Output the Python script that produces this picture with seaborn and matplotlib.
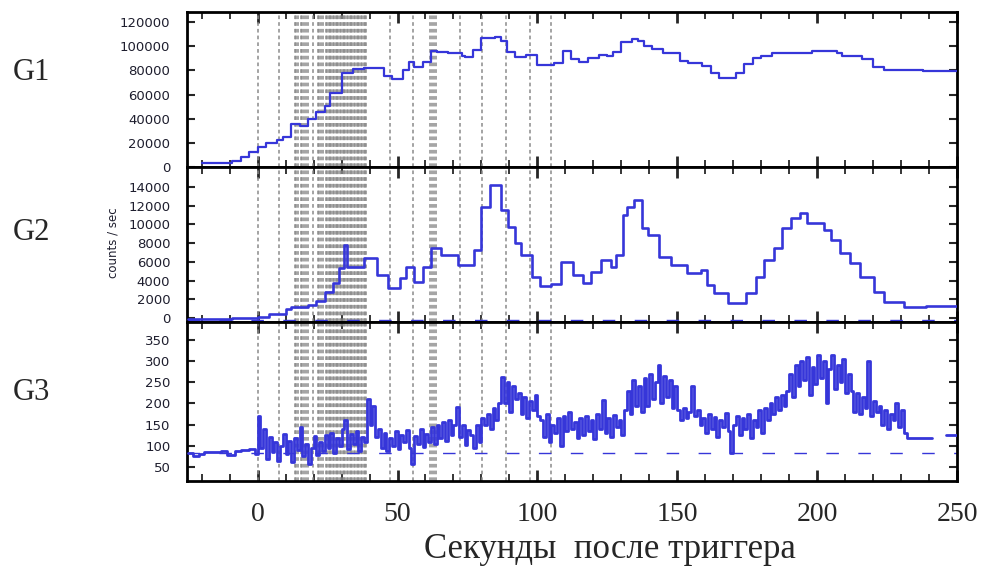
import numpy as np
import pandas as pd
import matplotlib
matplotlib.use("Agg")
import matplotlib.pyplot as plt
import seaborn as sns

# ---------------- data ----------------
panel_names = ["G1", "G2", "G3"]
x_ticks = [0, 50, 100, 150, 200, 250]
x_label = "Секунды  после триггера"
y_label_g2 = "counts / sec"

g1_ticks = [0, 20000, 40000, 60000, 80000, 100000, 120000]
g2_ticks = [0, 2000, 4000, 6000, 8000, 10000, 12000, 14000]
g3_ticks = [50, 100, 150, 200, 250, 300, 350]

# G1 : step start times (s) and count rates
g1_time = [-20, -9, -6, -3, 0, 3, 7, 9, 12, 15, 18, 21, 24, 26, 30, 34, 38, 45, 48,
           52, 54, 56, 59, 62, 64, 68, 73, 74, 77, 80, 85, 87, 89, 92, 96, 100,
           106, 109, 112, 115, 118, 122, 125, 127, 130, 134, 136, 138, 141, 145,
           151, 154, 159, 162, 165, 171, 174, 177, 180, 184, 191, 198, 207, 209,
           216, 220, 224, 238]
g1_rate = [3600, 4700, 8500, 12700, 16800, 20100, 22300, 24600, 35600, 33900,
           40000, 45800, 50500, 61000, 77500, 80800, 82200, 75300, 72600, 80300,
           86700, 83000, 86700, 96400, 95000, 94200, 91900, 90800, 96800, 106900,
           108000, 104300, 95500, 91300, 92700, 84400, 86300, 96200, 89100, 87100,
           89900, 92700, 92200, 95400, 103700, 105900, 104500, 100100, 97400,
           94600, 88000, 85800, 83600, 77500, 73400, 77500, 85200, 89900, 92100,
           94600, 94100, 95700, 94600, 92100, 89100, 83000, 80300, 79700]
g1_end = 250

# G2 : step start times (s) and count rates
g2_time = [-25, -9, 0, 4, 10, 12, 18, 21, 24, 27, 29, 31, 32, 38, 42.5, 46.7, 51,
           53, 56, 59, 62, 65.6, 71.5, 77.5, 80, 83, 87, 89.6, 92, 94, 98, 101,
           105, 108.5, 112.7, 116.3, 119, 122.7, 126.3, 128, 130.5, 132, 134.5,
           137.5, 139.4, 143.5, 147.7, 153.6, 158.4, 160.8, 163, 168, 174.5, 178,
           181, 184.6, 187.6, 190.6, 194, 196.5, 202.4, 204.8, 208.3, 211.9,
           215.5, 220.2, 223.8, 231, 239]
g2_rate = [-150, 0, 140, 430, 930, 1210, 1390, 1850, 2810, 3700, 5300, 7800, 5490,
           6380, 4600, 3180, 4240, 5420, 3880, 5420, 7450, 6740, 5670, 7270,
           11900, 14220, 11550, 9770, 7990, 6740, 4420, 3420, 3640, 6020, 4600,
           3710, 4950, 6200, 5490, 6740, 11020, 11900, 12620, 9590, 8880, 6560,
           5670, 4780, 5130, 3530, 2640, 1570, 2640, 4420, 6200, 7450, 9590,
           10660, 11200, 10130, 9410, 8340, 6920, 5850, 4420, 2810, 1740, 1210,
           1280]
g2_end = 250
g2_background = -200

# G3 : 1-s bins starting at t = -25 s (nan = no data)
g3_first_bin = -25
g3_rate = [
    84, 84, 76, 76, 80, 80, 86, 86, 86, 86, 86, 86, 88, 88, 78, 78, 78, 88, 88, 90,
    90, 90, 92, 92, 80,
    171, 95, 140, 70, 120, 85, 110, 65, 100, 128, 80, 112, 62, 118, 90, 145, 75,
    105, 58, 96, 122, 78, 108, 88, 125, 95, 130, 82, 118, 100, 140, 161, 92, 128,
    105, 135, 88, 120, 110,
    210, 150, 193,
    120, 140, 95, 130, 88, 118, 100, 135, 92, 125, 108, 138, 96, 58, 122, 104, 140,
    98, 128,
    110, 145, 105, 150, 118, 155, 112, 160, 125, 148, 191, 120, 150, 102, 138,
    125, 95, 150, 110, 165,
    150, 175, 140, 190, 160, 200,
    263, 200, 250, 180, 240, 210,
    225, 175, 215, 165, 205, 185, 220, 170,
    160, 120, 175, 110, 150, 130, 165, 100,
    170, 135, 180, 140,
    155, 118, 165, 125, 170, 135, 160, 115, 175, 140, 208, 130, 165, 120, 172, 145,
    160, 125, 185,
    230, 175, 255, 195, 240, 180,
    260, 195, 270, 210, 250, 291, 200, 265, 215, 255, 190, 240,
    185, 160, 190, 165, 180, 240, 170, 185, 150,
    165, 130, 175, 140, 168, 120, 160, 145, 178, 135, 84, 150, 170, 125, 165, 140,
    175, 118, 160,
    145, 185, 130, 190, 160, 200, 175, 215, 185, 220, 195, 230,
    270, 215, 290, 240, 300, 255, 310, 220, 285, 245, 315, 260, 300, 200, 280, 315,
    235, 290, 250, 305, 225, 270,
    230, 180, 225, 175, 215, 190, 299, 170, 205, 180,
    195, 150, 185, 140, 175, 160, 200, 145, 185, 130,
    118, 118, 118, 118, 118, 118, 118, 118, 118,
    np.nan, np.nan, np.nan, np.nan, np.nan,
    126, 126, 126, 126,
]
g3_background = 84

# times of the vertical dashed marker lines (s)
event_times = [0, 7.7, 13.2, 13.8, 14.4, 15.4, 16.0, 16.7, 17.3, 18.1, 19.7,
               21.5, 22.1, 22.8, 23.4,
               24.4, 24.9, 25.4, 25.9, 26.4, 26.9, 27.4, 27.9, 28.4, 28.9, 29.4,
               29.9, 30.4, 30.9, 31.4, 31.9, 32.4, 32.9, 33.4, 33.9, 34.4, 34.9,
               35.4, 35.9, 36.4, 36.9, 37.4, 37.9, 38.4, 38.9,
               47.3, 55.6, 61.7, 62.4, 63.0, 63.7, 72.5, 80.3, 88.9, 97.3, 105]

# ---------------- helpers ----------------
def step_frame(times, values, end):
    t = list(times) + [end]
    v = list(values) + [values[-1]]
    return pd.DataFrame({"t": t, "rate": v, "seg": 0})


def binned_step_frame(first, values):
    rows = []
    seg = 0
    run = []
    for i, v in enumerate(values + [np.nan]):
        t = first + i
        if np.isnan(v):
            if run:
                run.append((t, run[-1][1]))
                rows += [(a, b, seg) for a, b in run]
                seg += 1
                run = []
        else:
            run.append((t, v))
    return pd.DataFrame(rows, columns=["t", "rate", "seg"])


BLUE = "#3636d9"
GREY = "#8a8a8a"

sns.set_style("ticks")
plt.rcParams["font.family"] = ["DejaVu Sans"]
SERIF = ["Liberation Serif", "DejaVu Serif"]

W, H = 1001, 566
fig = plt.figure(figsize=(W / 100, H / 100), dpi=100)

left = 187 / W
width = (957 - 187) / W
boxes = [(12, 167), (167, 322), (322, 481)]
axes = []
for top, bot in boxes:
    ax = fig.add_axes([left, 1 - bot / H, width, (bot - top) / H])
    axes.append(ax)

frames = [step_frame(g1_time, g1_rate, g1_end),
          step_frame(g2_time, g2_rate, g2_end),
          binned_step_frame(g3_first_bin, g3_rate)]
ylims = [(0, 128300), (-430, 16150), (17, 392)]
yticks = [g1_ticks, g2_ticks, g3_ticks]
lws = [1.6, 1.9, 2.0]
backgrounds = [None, g2_background, g3_background]

for i, ax in enumerate(axes):
    for t in event_times:
        ax.axvline(t, color=GREY, lw=1.1, ls=(0, (2.4, 2.0)), zorder=1)
    if backgrounds[i] is not None:
        ax.axhline(backgrounds[i], color=BLUE, lw=1.0, ls=(0, (9, 14)), zorder=2)
    sns.lineplot(data=frames[i], x="t", y="rate", units="seg", estimator=None,
                 sort=False, drawstyle="steps-post", color=BLUE, lw=lws[i],
                 ax=ax, zorder=3)
    ax.set_xlim(-25.25, 249.75)
    ax.set_ylim(*ylims[i])
    ax.set_yticks(yticks[i])
    ax.set_yticklabels([str(v) for v in yticks[i]])
    ax.set_xticks(x_ticks)
    ax.set_xticks(np.arange(-20, 250, 10), minor=True)
    ax.set_xlabel("")
    ax.set_ylabel("")
    for s in ax.spines.values():
        s.set_linewidth(2.0)
        s.set_color("black")
    ax.tick_params(axis="y", which="major", direction="in", length=6, width=1.5,
                   left=True, right=True, labelsize=9.5, pad=12,
                   labelcolor="#1e1e2e")
    ax.tick_params(axis="x", which="major", direction="in", length=8, width=2,
                   top=True, bottom=True)
    ax.tick_params(axis="x", which="minor", direction="in", length=5, width=1.3,
                   top=True, bottom=True)
    if i < 2:
        ax.tick_params(axis="x", labelbottom=False)
    else:
        ax.tick_params(axis="x", labelsize=20, pad=15)
        for lab in ax.get_xticklabels():
            lab.set_family(SERIF)

label_y = [73, 233, 393]
for name, y in zip(panel_names, label_y):
    fig.text(31 / W, 1 - y / H, name, family=SERIF, fontsize=22,
             ha="center", va="center")

fig.text(113 / W, 1 - 243 / H, y_label_g2, rotation=90, fontsize=8.5,
         ha="center", va="center", color="#1e1e2e")
fig.text(610 / W, 1 - 549 / H, x_label, family=SERIF, fontsize=25,
         ha="center", va="center")

fig.savefig("out.png", dpi=100)
